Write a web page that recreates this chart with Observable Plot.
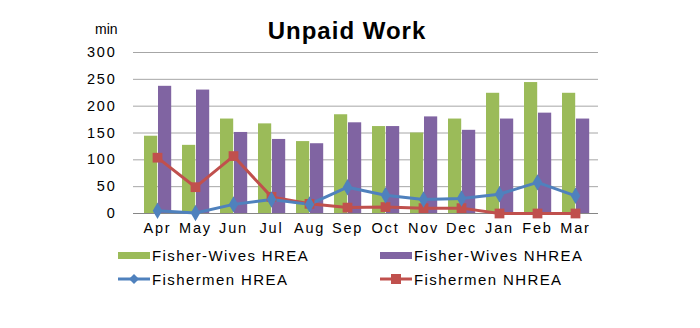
<!DOCTYPE html>
<html><head><meta charset="utf-8">
<script src="https://cdn.jsdelivr.net/npm/d3@7"></script>
<script src="https://cdn.jsdelivr.net/npm/@observablehq/plot@0.6"></script>
<style>
body{margin:0;background:#fff;font-family:Arial,"Liberation Sans",sans-serif;}
#wrap{position:relative;width:700px;height:328px;overflow:hidden;}
#chart{position:absolute;left:0;top:0;}
#chart text{letter-spacing:1.8px;}
#title{position:absolute;left:0;width:694px;text-align:center;top:17px;font-size:24px;line-height:28px;font-weight:bold;letter-spacing:1px;color:#000;}
#unit{position:absolute;left:95px;top:21px;font-size:14px;line-height:16px;color:#000;}
.leg{position:absolute;display:flex;align-items:center;font-size:15px;letter-spacing:1.4px;color:#000;height:20px;}
.leg svg{margin-right:2px;}
</style>
</head><body>
<div id="wrap">
<div id="chart"></div>
<div id="title">Unpaid Work</div>
<div id="unit">min</div>
<div id="legend"></div>
</div>
<script>
const months = ["Apr","May","Jun","Jul","Aug","Sep","Oct","Nov","Dec","Jan","Feb","Mar"];
const wivesHREA  = [144,127,176,167,134,184,162,150,176,224,244,224];
const wivesNHREA = [237,230,151,138,130,169,162,180,155,176,187,176];
const menHREA    = [5,1,17,26,17,49,34,26,28,36,58,33];
const menNHREA   = [104,49,107,31,18,11,12,10,10,0,0,0];
const yTicks = [0,50,100,150,200,250,300];
const seriesNames = ["Fisher-Wives HREA","Fisher-Wives NHREA","Fishermen HREA","Fishermen NHREA"];
const colors = ["#9BBB59","#8064A2","#4F81BD","#C0504D"];

const rows = months.map((m,i)=>({m, wh:wivesHREA[i], wn:wivesNHREA[i], mh:menHREA[i], mn:menNHREA[i]}));

const chart = Plot.plot({
  width:700, height:245,
  marginLeft:133, marginRight:102, marginTop:52, marginBottom:32,
  style:{fontFamily:"Arial, 'Liberation Sans', sans-serif", fontSize:"14.5px", color:"#000", background:"transparent"},
  x:{domain:months, padding:0, label:null, tickSize:0, tickPadding:9},
  y:{domain:[0,300], ticks:yTicks, label:null, tickSize:0, tickPadding:17},
  marks:[
    Plot.ruleY(yTicks.slice(1), {stroke:"#A6A6A6", strokeWidth:1}),
    Plot.barY(rows, {x:"m", y:"wh", fill:colors[0], insetLeft:6, insetRight:18.8}),
    Plot.barY(rows, {x:"m", y:"wn", fill:colors[1], insetLeft:20, insetRight:4.8}),
    Plot.ruleY([0], {stroke:"#868686", strokeWidth:1}),
    Plot.line(rows, {x:"m", y:"mn", stroke:colors[3], strokeWidth:3}),
    Plot.line(rows, {x:"m", y:"mh", stroke:colors[2], strokeWidth:3}),
    Plot.dot(rows, {x:"m", y:"mn", symbol:"square", r:5.5, fill:colors[3]}),
    Plot.dot(rows, {x:"m", y:"mh", symbol:"diamond", r:5, fill:colors[2]})
  ]
});
document.getElementById("chart").appendChild(chart);

// legend
const leg = document.getElementById("legend");
const items = [
  {name:seriesNames[0], color:colors[0], kind:"bar",  x:118, y:245},
  {name:seriesNames[1], color:colors[1], kind:"bar",  x:380, y:245},
  {name:seriesNames[2], color:colors[2], kind:"diamond", x:118, y:269},
  {name:seriesNames[3], color:colors[3], kind:"square",  x:380, y:269}
];
items.forEach(it=>{
  const d = document.createElement("div");
  d.className = "leg";
  d.style.left = it.x + "px";
  d.style.top = it.y + "px";
  let sw;
  if (it.kind==="bar") {
    sw = `<svg width="32" height="20"><rect x="0" y="7" width="32" height="7" fill="${it.color}"/></svg>`;
  } else if (it.kind==="diamond") {
    sw = `<svg width="32" height="20"><line x1="0" x2="32" y1="10" y2="10" stroke="${it.color}" stroke-width="3"/><path d="M16 5 L21 10 L16 15 L11 10 Z" fill="${it.color}"/></svg>`;
  } else {
    sw = `<svg width="32" height="20"><line x1="0" x2="32" y1="10" y2="10" stroke="${it.color}" stroke-width="3"/><rect x="11" y="5" width="10" height="10" fill="${it.color}"/></svg>`;
  }
  d.innerHTML = sw + `<span>${it.name}</span>`;
  leg.appendChild(d);
});
</script>
</body></html>
